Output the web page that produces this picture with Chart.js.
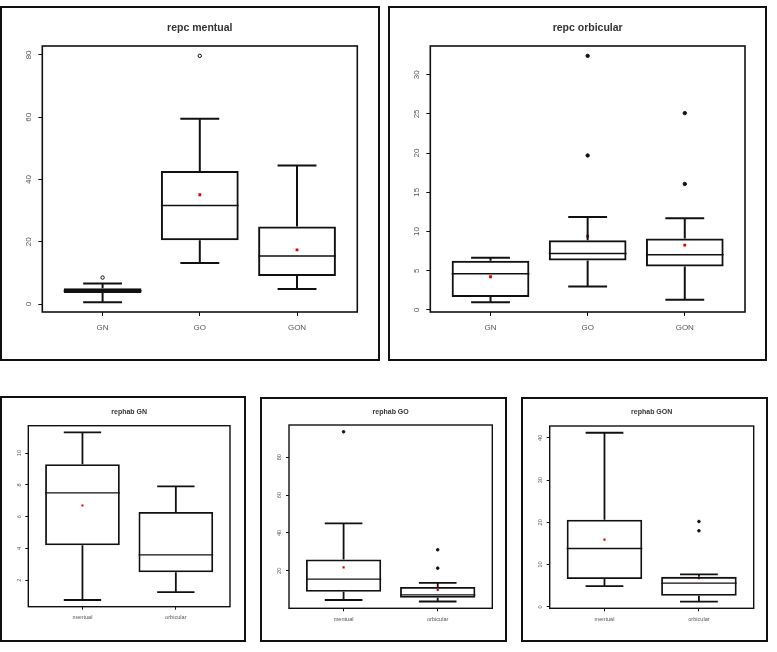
<!DOCTYPE html>
<html>
<head>
<meta charset="utf-8">
<script src="https://cdn.jsdelivr.net/npm/chart.js@4"></script>
<style>
  body { margin: 0; background: #fff; }
  .panel { position: absolute; box-sizing: border-box; border: 2px solid #111; background: #fff; }
  .panel canvas { display: block; }
  #p1 { left: 0; top: 6px; width: 380px; height: 355px; }
  #p2 { left: 388px; top: 6px; width: 379px; height: 355px; }
  #p3 { left: 0; top: 396px; width: 246px; height: 246px; }
  #p4 { left: 260px; top: 397px; width: 247px; height: 245px; }
  #p5 { left: 521px; top: 397px; width: 247px; height: 245px; }
</style>
</head>
<body>
<div class="panel" id="p1"><canvas id="c1" width="376" height="351"></canvas></div>
<div class="panel" id="p2"><canvas id="c2" width="375" height="351"></canvas></div>
<div class="panel" id="p3"><canvas id="c3" width="242" height="242"></canvas></div>
<div class="panel" id="p4"><canvas id="c4" width="243" height="241"></canvas></div>
<div class="panel" id="p5"><canvas id="c5" width="243" height="241"></canvas></div>
<script>
// box stats per group: [lower whisker, Q1, median, Q3, upper whisker]
const groups = ["GN", "GO", "GON"];
const muscles = ["mentual", "orbicular"];

const repcMentual = [[0.6, 3.5, 4.3, 5.1, 6.6], [13.2, 20.5, 31.6, 42.7, 59.5], [4.8, 9.0, 15.4, 24.9, 44.5]];
const repcMentualMean = [4.3, 35.1, 17.4];
const repcMentualOut = [[8.5], [79.7], []];
const repcMentualTicks = [0, 20, 40, 60, 80];

const repcOrbicular = [[1.0, 1.65, 4.63, 6.28, 6.66], [3.0, 6.32, 7.2, 8.9, 11.87], [1.32, 5.55, 7.04, 9.1, 11.7]];
const repcOrbicularMean = [4.24, 9.4, 8.27];
const repcOrbicularOut = [[], [32.4, 19.7], [25.1, 16.07]];
const repcOrbicularTicks = [0, 5, 10, 15, 20, 25, 30];

const rephabGN = [[0.76, 4.2, 7.5, 9.3, 11.3], [1.25, 2.5, 3.6, 6.3, 7.9]];
const rephabGNMean = [6.7, null];
const rephabGNOut = [[], []];
const rephabGNTicks = [2, 4, 6, 8, 10];

const rephabGO = [[4.6, 8.9, 15.6, 26.0, 45.1], [3.8, 5.8, 7.3, 11.5, 13.6]];
const rephabGOMean = [21.8, 9.9];
const rephabGOOut = [[93.4], [31.1, 21.4]];
const rephabGOTicks = [20, 40, 60, 80];

const rephabGON = [[4.9, 6.6, 13.8, 20.6, 41.2], [1.25, 2.6, 5.6, 7.1, 7.7]];
const rephabGONMean = [15.9, 6.8];
const rephabGONOut = [[], [20.2, 18.0]];
const rephabGONTicks = [0, 10, 20, 30, 40];

const FONT = "'Liberation Sans', Arial, sans-serif";

// R-like frame around the plotting region
const frame = {
  id: "frame",
  afterDatasetsDraw(chart, args, opts) {
    const a = chart.chartArea;
    const ctx = chart.ctx;
    ctx.save();
    ctx.strokeStyle = "#111";
    ctx.lineWidth = opts.width;
    ctx.strokeRect(a.left, a.top, a.right - a.left, a.bottom - a.top);
    ctx.restore();
  }
};

function boxPlot(id, title, cats, box, mean, out, yTicks, L) {
  const n = cats.length;
  const all = box.flat().concat(out.flat());
  const lo = Math.min.apply(null, all);
  const hi = Math.max.apply(null, all);
  const ext = (hi - lo) * 0.04;

  const boxes = [], medians = [], whiskers = [], means = [], outs = [];
  box.forEach(function(b, i) {
    const x = i + 1;
    boxes.push({ x: x, y: [b[1], b[3]] });
    medians.push({ x: x - 0.4, y: b[2] }, { x: x + 0.4, y: b[2] }, { x: x, y: null });
    whiskers.push(
      { x: x, y: b[3] }, { x: x, y: b[4] }, { x: x, y: null },
      { x: x, y: b[0] }, { x: x, y: b[1] }, { x: x, y: null },
      { x: x - 0.2, y: b[4] }, { x: x + 0.2, y: b[4] }, { x: x, y: null },
      { x: x - 0.2, y: b[0] }, { x: x + 0.2, y: b[0] }, { x: x, y: null }
    );
    if (mean[i] != null) means.push({ x: x, y: mean[i] });
    out[i].forEach(function(v) { outs.push({ x: x, y: v }); });
  });

  new Chart(document.getElementById(id), {
    type: "bar",
    data: {
      datasets: [
        {
          data: boxes,
          backgroundColor: "rgba(0,0,0,0)",
          borderColor: "#111",
          borderWidth: L.lw,
          borderSkipped: false,
          barPercentage: 0.8,
          categoryPercentage: 1,
        },
        {
          type: "line", data: medians, borderColor: "#111", borderWidth: L.mw,
          pointRadius: 0, spanGaps: false,
        },
        {
          type: "line", data: whiskers, borderColor: "#111", borderWidth: L.lw,
          pointRadius: 0, spanGaps: false,
        },
        {
          type: "line", data: outs, showLine: false, pointStyle: "circle",
          pointRadius: L.or, pointBorderWidth: 1, pointBorderColor: "#111",
          pointBackgroundColor: L.ofill,
        },
        {
          type: "line", data: means, showLine: false, pointStyle: "rect",
          pointRadius: L.mr, pointBorderWidth: 0, pointBackgroundColor: "#e00000",
        },
      ],
    },
    options: {
      responsive: false,
      animation: false,
      events: [],
      layout: { padding: { left: 0, top: 0, bottom: 0, right: L.rp } },
      plugins: {
        legend: { display: false },
        tooltip: { enabled: false },
        title: {
          display: true, text: title, fullSize: false, color: "#333",
          font: { family: FONT, size: L.tfs, weight: "bold" },
          padding: { top: L.tpt, bottom: L.tpb },
        },
        frame: { width: L.fw },
      },
      scales: {
        x: {
          type: "linear",
          min: 0.5 - 0.04 * n,
          max: n + 0.5 + 0.04 * n,
          offset: false,
          afterBuildTicks: function(s) { s.ticks = cats.map(function(c, i) { return { value: i + 1 }; }); },
          afterFit: function(s) { s.height = L.xh; },
          grid: { drawOnChartArea: false, offset: false, color: "#111", tickLength: L.tl, lineWidth: 1 },
          border: { display: false },
          ticks: {
            autoSkip: false, maxRotation: 0, padding: L.xpad, color: "#555",
            font: { family: FONT, size: L.fs },
            callback: function(v) { return cats[v - 1]; },
          },
        },
        y: {
          type: "linear",
          min: lo - ext,
          max: hi + ext,
          beginAtZero: false,
          afterBuildTicks: function(s) { s.ticks = yTicks.map(function(v) { return { value: v }; }); },
          afterFit: function(s) { s.width = L.yw; },
          grid: { drawOnChartArea: false, color: "#111", tickLength: L.tl, lineWidth: 1 },
          border: { display: false },
          ticks: {
            autoSkip: false, minRotation: 90, maxRotation: 90, crossAlign: "center",
            padding: L.ypad, color: "#555",
            font: { family: FONT, size: L.fs },
            callback: function(v) { return String(v); },
          },
        },
      },
    },
    plugins: [frame],
  });
}

const bigLayout = { rp: 20.7, yw: 40.3, xh: 47, tl: 4, xpad: 6.5, ypad: 5.5, fs: 8,
  tfs: 10.5, tpt: 14, tpb: 11.4, lw: 2, mw: 1.5, fw: 1.6, or: 1.7, mr: 2, ofill: "#111" };

boxPlot("c1", "repc mentual", groups, repcMentual, repcMentualMean, repcMentualOut, repcMentualTicks,
  Object.assign({}, bigLayout, { ofill: "#fff" }));
boxPlot("c2", "repc orbicular", groups, repcOrbicular, repcOrbicularMean, repcOrbicularOut, repcOrbicularTicks,
  Object.assign({}, bigLayout, { rp: 20, ypad: 5.1 }));

const smallLayout = { tl: 3, fs: 5.6, tfs: 7, lw: 1.8, mw: 1.4, fw: 1.4, or: 1.3, mr: 1.5, ofill: "#111" };

boxPlot("c3", "rephab GN", muscles, rephabGN, rephabGNMean, rephabGNOut, rephabGNTicks,
  Object.assign({}, smallLayout, { rp: 14, yw: 26.3, xh: 33.3, xpad: 4.5, ypad: 3.2, tpt: 10.1, tpb: 9.2 }));
boxPlot("c4", "rephab GO", muscles, rephabGO, rephabGOMean, rephabGOOut, rephabGOTicks,
  Object.assign({}, smallLayout, { rp: 12.7, yw: 27, xh: 31.7, xpad: 4.5, ypad: 3, tpt: 8.8, tpb: 8.8 }));
boxPlot("c5", "rephab GON", muscles, rephabGON, rephabGONMean, rephabGONOut, rephabGONTicks,
  Object.assign({}, smallLayout, { rp: 12.3, yw: 26.7, xh: 31.7, xpad: 5, ypad: 3, tpt: 9.1, tpb: 9.5 }));
</script>
</body>
</html>
